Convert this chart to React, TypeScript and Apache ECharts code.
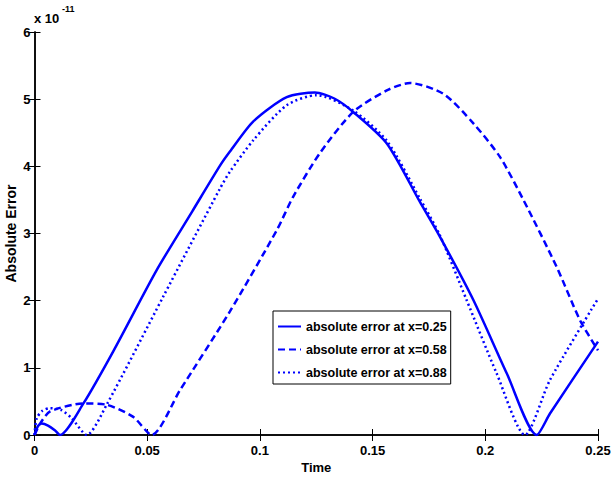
import React, { useEffect, useRef } from "react";
import * as echarts from "echarts";

// Axis ticks
const xTicks = [0, 0.05, 0.1, 0.15, 0.2, 0.25];
const xTickLabels = ["0", "0.05", "0.1", "0.15", "0.2", "0.25"];
const yTickLabels = ["0", "1", "2", "3", "4", "5", "6"];

// Series names
const seriesNames = [
  "absolute error at x=0.25",
  "absolute error at x=0.58",
  "absolute error at x=0.88",
];

// Values are in units of 1e-11
const time025 = [0, 0.0015, 0.0032, 0.006, 0.009, 0.0113, 0.0217, 0.035, 0.0542, 0.07, 0.0823, 0.0867, 0.0971, 0.1119, 0.1244, 0.133, 0.1414, 0.1563, 0.171, 0.1799, 0.1947, 0.2095, 0.2228, 0.2287, 0.25];
const err025 = [0, 0.13, 0.17, 0.14, 0.07, 0, 0.47, 1.25, 2.455, 3.33, 4.01, 4.22, 4.67, 5.03, 5.1, 5.01, 4.81, 4.34, 3.47, 2.95, 2.01, 0.92, 0, 0.32, 1.39];

const time058 = [0, 0.0025, 0.0069, 0.0217, 0.032, 0.0438, 0.052, 0.0646, 0.0867, 0.1075, 0.1148, 0.1267, 0.1414, 0.1563, 0.1666, 0.1814, 0.1947, 0.2065, 0.2169, 0.2317, 0.242, 0.25];
const err058 = [0, 0.17, 0.35, 0.47, 0.45, 0.27, 0, 0.67, 1.84, 3.05, 3.55, 4.2, 4.81, 5.13, 5.24, 5.08, 4.64, 4.14, 3.5, 2.5, 1.71, 1.26];

const time088 = [0, 0.001, 0.0035, 0.0069, 0.012, 0.0165, 0.0232, 0.032, 0.0571, 0.0823, 0.0867, 0.0971, 0.1119, 0.1252, 0.1414, 0.1563, 0.171, 0.1799, 0.1917, 0.205, 0.2176, 0.2287, 0.25];
const err088 = [0, 0.25, 0.36, 0.4, 0.37, 0.25, 0, 0.45, 2.06, 3.67, 3.92, 4.39, 4.91, 5.06, 4.83, 4.38, 3.52, 2.97, 2.01, 0.92, 0, 0.82, 2.03];

const FONT = "'Liberation Sans', Arial, Helvetica, sans-serif";
const BLUE = "#0000ff";

const pairs = (t: number[], v: number[]) => t.map((x, i) => [x, v[i]]);

export default function App() {
  const ref = useRef<HTMLDivElement>(null);

  useEffect(() => {
    if (!ref.current) return;
    const chart = echarts.init(ref.current, null, { renderer: "svg" });
    const axisLine = { show: true, lineStyle: { color: "#000", width: 1.5 } };
    const tickIn = { show: true, inside: true, length: 6, lineStyle: { color: "#000", width: 1 } };
    const labelStyle = { color: "#000", fontFamily: FONT, fontWeight: "bold" as const, fontSize: 13 };

    chart.setOption({
      animation: false,
      backgroundColor: "#fff",
      grid: {
        left: 34.5,
        right: 13,
        top: 32,
        bottom: 44,
        containLabel: false,
        outerBoundsMode: "none",
      },
      xAxis: [
        {
          type: "value",
          min: 0,
          max: 0.25,
          interval: 0.05,
          position: "bottom",
          name: "Time",
          nameLocation: "middle",
          nameGap: 26,
          nameMoveOverlap: false,
          nameTextStyle: { ...labelStyle },
          axisLine,
          axisTick: tickIn,
          splitLine: { show: false },
          axisLabel: {
            ...labelStyle,
            margin: 9,
            formatter: (v: number) => {
              const i = xTicks.findIndex((t) => Math.abs(t - v) < 1e-9);
              return i >= 0 ? xTickLabels[i] : "";
            },
          },
        },
        {
          type: "value",
          min: 0,
          max: 0.25,
          interval: 0.05,
          position: "top",
          axisLine,
          axisTick: tickIn,
          axisLabel: { show: false },
          splitLine: { show: false },
        },
      ],
      yAxis: [
        {
          type: "value",
          min: 0,
          max: 6,
          interval: 1,
          position: "left",
          name: "Absolute Error",
          nameLocation: "middle",
          nameRotate: 90,
          nameGap: 17,
          nameMoveOverlap: false,
          nameTextStyle: { ...labelStyle, fontSize: 14 },
          axisLine,
          axisTick: tickIn,
          splitLine: { show: false },
          axisLabel: {
            ...labelStyle,
            margin: 4,
            formatter: (v: number) => yTickLabels[Math.round(v)] ?? "",
          },
        },
        {
          type: "value",
          min: 0,
          max: 6,
          interval: 1,
          position: "right",
          axisLine,
          axisTick: tickIn,
          axisLabel: { show: false },
          splitLine: { show: false },
        },
      ],
      legend: {
        orient: "vertical",
        left: 273,
        top: 311,
        backgroundColor: "#fff",
        borderColor: "#000",
        borderWidth: 1,
        padding: [9, 4, 5, 4],
        itemGap: 10,
        itemWidth: 23,
        itemHeight: 14,
        itemStyle: { color: "rgba(0,0,0,0)", borderWidth: 0, opacity: 0 },
        textStyle: { ...labelStyle, fontSize: 12.5 },
        data: seriesNames,
      },
      graphic: [
        {
          type: "text",
          left: 34,
          top: 12,
          style: { text: "x 10", fill: "#000", font: `bold 13px ${FONT}` },
        },
        {
          type: "text",
          left: 62,
          top: 4,
          style: { text: "-11", fill: "#000", font: `bold 9px ${FONT}` },
        },
      ],
      series: [
        {
          name: seriesNames[0],
          type: "line",
          data: pairs(time025, err025),
          showSymbol: false,
          symbol: "none",
          smooth: 0.25,
          color: BLUE,
          lineStyle: { color: BLUE, width: 2.5, type: "solid" },
        },
        {
          name: seriesNames[1],
          type: "line",
          data: pairs(time058, err058),
          showSymbol: false,
          symbol: "none",
          smooth: 0.25,
          color: BLUE,
          lineStyle: { color: BLUE, width: 2.5, type: [7, 4] },
        },
        {
          name: seriesNames[2],
          type: "line",
          data: pairs(time088, err088),
          showSymbol: false,
          symbol: "none",
          smooth: 0.25,
          color: BLUE,
          lineStyle: { color: BLUE, width: 2.5, type: [2, 3] },
        },
      ],
    });
    return () => chart.dispose();
  }, []);

  return (
    <div
      ref={ref}
      style={{ position: "fixed", left: 0, top: 0, width: 611, height: 479, background: "#fff" }}
    />
  );
}
